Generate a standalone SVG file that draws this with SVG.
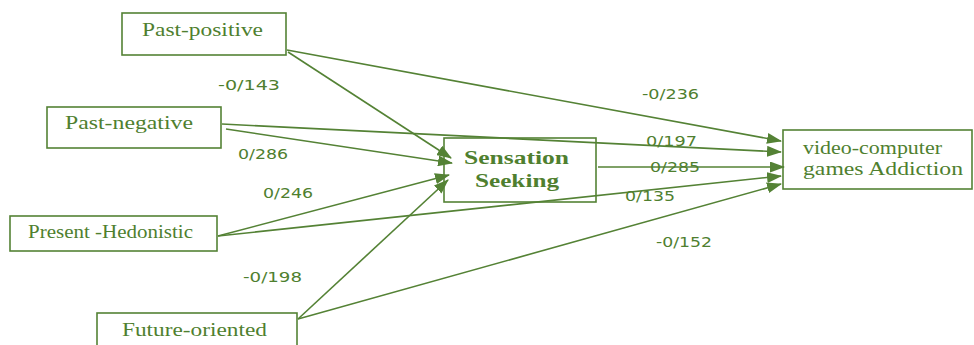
<svg xmlns="http://www.w3.org/2000/svg" width="974" height="345" viewBox="0 0 974 345">
<defs>
<marker id="ah" markerWidth="15" markerHeight="11" refX="14" refY="5.5" orient="auto" markerUnits="userSpaceOnUse">
<path d="M0,0 L15,5.5 L0,11 Z" fill="#548235"/>
</marker>
<style>
.box{fill:none;stroke:#548235;stroke-width:1.6}
.ln{stroke:#548235;stroke-width:1.6;fill:none;marker-end:url(#ah)}
.nt{font-family:"Liberation Serif","DejaVu Serif",serif;font-size:18px;fill:#4f7f2f}
.bt{font-family:"Liberation Serif","DejaVu Serif",serif;font-size:19px;font-weight:bold;fill:#4f7f2f}
.lb{font-family:"DejaVu Sans","Liberation Sans",sans-serif;font-size:14px;fill:#4f7f2f}
</style>
</defs>
<rect width="974" height="345" fill="#fff"/>
<g id="connectors">
<line class="ln" x1="287" y1="50" x2="781" y2="141"/>
<line class="ln" x1="288" y1="52" x2="451" y2="158"/>
<line class="ln" x1="222" y1="124" x2="781" y2="152"/>
<line class="ln" x1="226" y1="129" x2="452" y2="163"/>
<line class="ln" x1="218" y1="236" x2="449" y2="175"/>
<line class="ln" x1="218" y1="236" x2="781" y2="176"/>
<line class="ln" x1="298" y1="319" x2="448" y2="180"/>
<line class="ln" x1="298" y1="319" x2="781" y2="184"/>
<line class="ln" x1="598" y1="167" x2="784" y2="167"/>
</g>
<g id="labels">
<text class="lb" x="218" y="90" textLength="62" lengthAdjust="spacingAndGlyphs">-0/143</text>
<text class="lb" x="238" y="159" textLength="50" lengthAdjust="spacingAndGlyphs">0/286</text>
<text class="lb" x="263" y="198" textLength="50" lengthAdjust="spacingAndGlyphs">0/246</text>
<text class="lb" x="243" y="282" textLength="59" lengthAdjust="spacingAndGlyphs">-0/198</text>
<text class="lb" x="642" y="99" textLength="57" lengthAdjust="spacingAndGlyphs">-0/236</text>
<text class="lb" x="646" y="146" textLength="51" lengthAdjust="spacingAndGlyphs">0/197</text>
<text class="lb" x="650" y="172" textLength="50" lengthAdjust="spacingAndGlyphs">0/285</text>
<text class="lb" x="625" y="201" textLength="50" lengthAdjust="spacingAndGlyphs">0/135</text>
<text class="lb" x="656" y="247" textLength="56" lengthAdjust="spacingAndGlyphs">-0/152</text>
</g>
<g id="past-positive">
<rect class="box" x="122" y="13" width="164" height="42"/>
<text class="nt" x="142" y="36" textLength="121" lengthAdjust="spacingAndGlyphs">Past-positive</text>
</g>
<g id="past-negative">
<rect class="box" x="47" y="107" width="174" height="41"/>
<text class="nt" x="65" y="129" textLength="128" lengthAdjust="spacingAndGlyphs">Past-negative</text>
</g>
<g id="present-hedonistic">
<rect class="box" x="10" y="216" width="207" height="35"/>
<text class="nt" x="28" y="238" textLength="165" lengthAdjust="spacingAndGlyphs">Present -Hedonistic</text>
</g>
<g id="future-oriented">
<rect class="box" x="97" y="313" width="200" height="40"/>
<text class="nt" x="122" y="336" textLength="145" lengthAdjust="spacingAndGlyphs">Future-oriented</text>
</g>
<g id="sensation-seeking">
<rect class="box" x="444" y="138" width="152" height="64"/>
<text class="bt" x="464" y="164" textLength="105" lengthAdjust="spacingAndGlyphs">Sensation</text>
<text class="bt" x="475" y="187" textLength="84" lengthAdjust="spacingAndGlyphs">Seeking</text>
</g>
<g id="video-addiction">
<rect class="box" x="783" y="130" width="189" height="59"/>
<text class="nt" x="803" y="154" textLength="139" lengthAdjust="spacingAndGlyphs">video-computer</text>
<text class="nt" x="803" y="175" textLength="160" lengthAdjust="spacingAndGlyphs">games Addiction</text>
</g>
</svg>
